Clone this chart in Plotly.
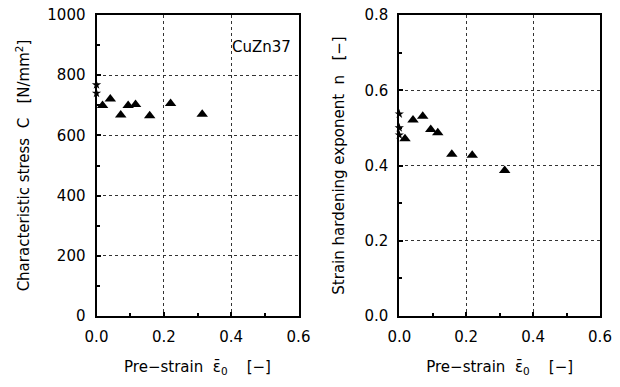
import plotly.graph_objects as go

# Left panel: characteristic stress C
c_tri_x = [0.018, 0.041, 0.072, 0.094, 0.116, 0.158, 0.220, 0.314]
c_tri_y = [699, 721, 668, 699, 703, 665, 706, 670]
c_star_x = [0.0, 0.0]
c_star_y = [768, 740]

# Right panel: strain hardening exponent n
n_tri_x = [0.017, 0.041, 0.070, 0.094, 0.115, 0.157, 0.218, 0.315]
n_tri_y = [0.471, 0.521, 0.531, 0.496, 0.487, 0.430, 0.427, 0.387]
n_star_x = [0.0, 0.0, 0.0]
n_star_y = [0.537, 0.500, 0.481]

x_ticks = [0.0, 0.2, 0.4, 0.6]
x_ticklabels = ["0.0", "0.2", "0.4", "0.6"]
c_ticks = [0, 200, 400, 600, 800, 1000]
n_ticks = [0.0, 0.2, 0.4, 0.6, 0.8]
n_ticklabels = ["0.0", "0.2", "0.4", "0.6", "0.8"]

FONT = "DejaVu Sans"

fig = go.Figure()

tri = dict(symbol="triangle-up", size=10, color="black")
star = dict(symbol="star", size=7, color="black")

fig.add_trace(go.Scatter(x=c_tri_x, y=c_tri_y, mode="markers", marker=tri,
                         xaxis="x", yaxis="y", cliponaxis=False, showlegend=False))
fig.add_trace(go.Scatter(x=c_star_x, y=c_star_y, mode="markers", marker=star,
                         xaxis="x", yaxis="y", cliponaxis=False, showlegend=False))
fig.add_trace(go.Scatter(x=n_tri_x, y=n_tri_y, mode="markers", marker=tri,
                         xaxis="x2", yaxis="y2", cliponaxis=False, showlegend=False))
fig.add_trace(go.Scatter(x=n_star_x, y=n_star_y, mode="markers", marker=star,
                         xaxis="x2", yaxis="y2", cliponaxis=False, showlegend=False))

ydom = [1 - 316 / 387, 1 - 15 / 387]

axis_common = dict(
    showline=True, linecolor="black", linewidth=2, mirror=True,
    showgrid=True, gridcolor="#333", gridwidth=1, griddash="dot",
    zeroline=False, ticks="inside", ticklen=4, tickwidth=1.5, tickcolor="black",
    tickfont=dict(family=FONT, size=15, color="black"),
    automargin=False, ticklabelstandoff=6,
)

xtitle = "Pre−strain  ε\u0304<sub>0</sub>    [−]"

fig.update_layout(
    width=620, height=387,
    margin=dict(l=0, r=0, t=0, b=0),
    paper_bgcolor="white", plot_bgcolor="white",
    font=dict(family=FONT, color="black"),
    xaxis=dict(axis_common, domain=[96.5 / 620, 298.5 / 620], range=[0, 0.6],
               tickvals=x_ticks, ticktext=x_ticklabels, anchor="y",
               minor=dict(tickvals=[0.1, 0.3, 0.5], ticks="inside", ticklen=3, tickcolor="black"),
               title=dict(text=xtitle, font=dict(size=15), standoff=16)),
    yaxis=dict(axis_common, domain=ydom, range=[0, 1000], tickvals=c_ticks,
               anchor="x",
               minor=dict(tickvals=[100, 300, 500, 700, 900], ticks="inside", ticklen=3, tickcolor="black"),
               title=dict(text="Characteristic stress  C   [N/mm<sup>2</sup>]",
                          font=dict(size=15), standoff=14)),
    xaxis2=dict(axis_common, domain=[399.3 / 620, 600 / 620], range=[0, 0.6],
                tickvals=x_ticks, ticktext=x_ticklabels, anchor="y2",
                minor=dict(tickvals=[0.1, 0.3, 0.5], ticks="inside", ticklen=3, tickcolor="black"),
                title=dict(text=xtitle, font=dict(size=15), standoff=16)),
    yaxis2=dict(axis_common, domain=ydom, range=[0, 0.8], tickvals=n_ticks,
                ticktext=n_ticklabels, anchor="x2",
                minor=dict(tickvals=[0.1, 0.3, 0.5, 0.7], ticks="inside", ticklen=3, tickcolor="black"),
                title=dict(text="Strain hardening exponent  n   [−]",
                           font=dict(size=15), standoff=16)),
    annotations=[
        dict(text="CuZn37", x=0.6, y=894, xref="x", yref="y", xanchor="right",
             yanchor="middle", xshift=-6, showarrow=False,
             font=dict(family=FONT, size=15, color="black"))
    ],
)

fig.write_html("out.html", config={"displayModeBar": False},
               post_script="document.body.style.margin='0';")
